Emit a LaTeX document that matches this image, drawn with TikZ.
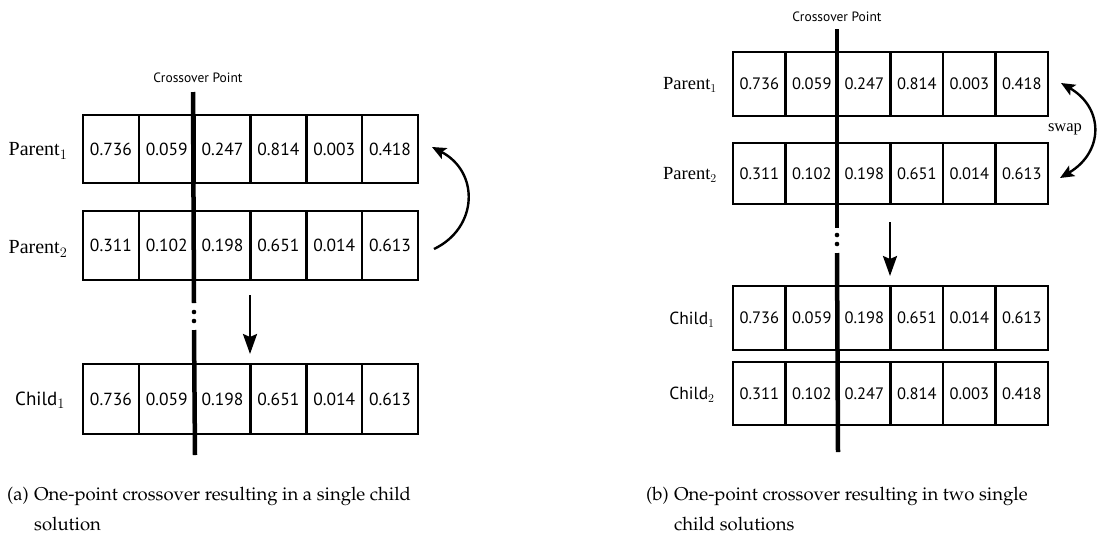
\documentclass[tikz,border=0pt]{standalone}
\usepackage[T1]{fontenc}
\usepackage{fontspec}
\newfontfamily\sansf{PT Sans}
\newfontfamily\serf{Liberation Serif}
\usetikzlibrary{arrows.meta}
\newcommand\palfont{\fontencoding{T1}\fontfamily{ppl}\selectfont}
\newcommand\cellrow[7]{%
  \foreach \v [count=\i] in {#7} {
    \node[cell, minimum width=#4pt, minimum height=#5pt, font=#6, anchor=north west]
      (#1c\i) at ({#2+(\i-1)*#4}, #3) {\v};
  }}
\tikzset{
  cell/.style={draw, line width=2.6pt, inner sep=0pt, outer sep=0pt},
  cross/.style={line width=4.5pt},
  lbl/.style={inner sep=0pt},
  bigarrow/.style={line width=2.4pt, -{Stealth[length=20pt,width=14pt,inset=3pt]}},
  curvarrow/.style={line width=2.4pt, -{Stealth[length=14pt,width=12pt,inset=3pt]}},
  swaparrow/.style={line width=2.4pt, {Stealth[length=14pt,width=12pt,inset=3pt]}-{Stealth[length=14pt,width=12pt,inset=3pt]}},
  captext/.style={inner sep=0pt, anchor=base west, font=\palfont\fontsize{18.5}{22}\selectfont},
}
\begin{document}
\begin{tikzpicture}[x=1pt,y=-1pt]
\useasboundingbox (0,0) rectangle (1111,539);
% ---------- (a) ----------
\cellrow{aP}{83}{115}{55.83}{68}{\sansf\fontsize{17.5}{20}\selectfont}{0.736,0.059,0.247,0.814,0.003,0.418}
\cellrow{aQ}{83}{211}{55.83}{69}{\sansf\fontsize{17.5}{20}\selectfont}{0.311,0.102,0.198,0.651,0.014,0.613}
\cellrow{aC}{83}{364}{55.83}{70}{\sansf\fontsize{17.5}{20}\selectfont}{0.736,0.059,0.198,0.651,0.014,0.613}
\node[lbl, font=\serf\fontsize{20}{22}\selectfont] (aLP1) at (38,151) {Parent$_1$};
\node[lbl, font=\serf\fontsize{20}{22}\selectfont] (aLP2) at (38,249) {Parent$_2$};
\node[lbl, font=\sansf\fontsize{19}{22}\selectfont] (aLC1) at (40,400) {Child$_1$};
\node[lbl, font=\sansf\fontsize{13.5}{15}\selectfont] (aCP) at (198,78) {Crossover Point};
\coordinate (aX1) at (193,92);
\coordinate (aX2) at (194,303);
\coordinate (aX3) at (194,330);
\coordinate (aX4) at (195,455);
\draw[cross] (aX1) -- (aX2);
\draw[cross] (aX3) -- (aX4);
\fill (194,312) circle (2.3);
\fill (194,321) circle (2.3);
\coordinate (aS) at (434,249);
\coordinate (aE) at (432,147);
\draw[curvarrow] (aS) .. controls (478,228) and (480,172) .. (aE);
\coordinate (aD1) at (250,295);
\coordinate (aD2) at (250,354);
\draw[bigarrow] (aD1) -- (aD2);
% ---------- (b) ----------
\cellrow{bP}{733}{52}{52.5}{64}{\sansf\fontsize{16.5}{19}\selectfont}{0.736,0.059,0.247,0.814,0.003,0.418}
\cellrow{bQ}{733}{143}{52.5}{61}{\sansf\fontsize{16.5}{19}\selectfont}{0.311,0.102,0.198,0.651,0.014,0.613}
\cellrow{bC}{733}{286}{52.5}{64}{\sansf\fontsize{16.5}{19}\selectfont}{0.736,0.059,0.198,0.651,0.014,0.613}
\cellrow{bD}{733}{362}{52.5}{63}{\sansf\fontsize{16.5}{19}\selectfont}{0.311,0.102,0.247,0.814,0.003,0.418}
\node[lbl, font=\serf\fontsize{18.5}{20}\selectfont] (bLP1) at (690,85) {Parent$_1$};
\node[lbl, font=\serf\fontsize{18.5}{20}\selectfont] (bLP2) at (690,175) {Parent$_2$};
\node[lbl, font=\sansf\fontsize{17.5}{20}\selectfont] (bLC1) at (692,320) {Child$_1$};
\node[lbl, font=\sansf\fontsize{17.5}{20}\selectfont] (bLC2) at (692,395) {Child$_2$};
\node[lbl, font=\sansf\fontsize{13.5}{15}\selectfont] (bCP) at (837,17) {Crossover Point};
\coordinate (bX1) at (837,29);
\coordinate (bX2) at (837,228);
\coordinate (bX3) at (837,253);
\coordinate (bX4) at (838,452);
\draw[cross] (bX1) -- (bX2);
\draw[cross] (bX3) -- (bX4);
\fill (837,235) circle (2.3);
\fill (837,244) circle (2.3);
\coordinate (bS) at (1060,178);
\coordinate (bE) at (1061,83);
\draw[swaparrow] (bS) .. controls (1104,152) and (1104,108) .. (bE);
\node[lbl, font=\serf\fontsize{16.5}{18}\selectfont] (bSw) at (1065,129) {swap};
\coordinate (bD1) at (890,222);
\coordinate (bD2) at (890,276);
\draw[bigarrow] (bD1) -- (bD2);
% ---------- captions ----------
\node[captext] (capA) at (7,500) {(a)};
\node[captext] (capAt) at ([xshift=5pt]capA.base east) {One-point crossover resulting in a single child};
\node[captext] (capA2) at ([yshift=-30pt]capAt.base west) {solution};
\node[captext] (capB) at (646,500) {(b)};
\node[captext] (capBt) at ([xshift=5pt]capB.base east) {One-point crossover resulting in two single};
\node[captext] (capB2) at ([yshift=-30pt]capBt.base west) {child solutions};
\end{tikzpicture}
\end{document}
